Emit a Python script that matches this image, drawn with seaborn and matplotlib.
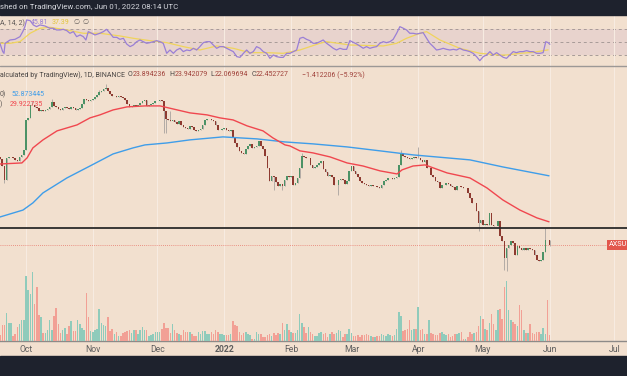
# AXS/USDT daily chart (TradingView style) rebuilt with seaborn + matplotlib
import numpy as np
import pandas as pd
import seaborn as sns
import matplotlib.pyplot as plt
from matplotlib.patches import Rectangle

# ---- data ----
# daily closes from 2021-09-19 to 2022-06-01 (USDT)
first_open = 67.0
closes = [
    65.2, 59.7, 50.2, 66.0, 66.8, 66.8, 66.0, 64.4, 63.6, 66.8, 68.5, 72.8,
    105.6, 108.3, 127.2, 127.2, 124.1, 122.5, 118.1, 119.5, 118.1, 119.5,
    121.0, 124.1, 132.0, 125.6, 124.1, 121.0, 119.5, 122.5, 124.1, 122.5,
    121.0, 124.1, 122.5, 119.5, 121.0, 122.5, 128.8, 137.0, 135.3, 133.7,
    135.3, 137.0, 140.4, 144.0, 149.4, 151.3, 155.1, 157.0, 151.3, 145.8,
    142.2, 142.2, 140.4, 142.2, 140.4, 138.7, 135.3, 128.8, 124.1, 125.6,
    127.2, 125.6, 127.2, 130.4, 133.7, 135.3, 125.6, 127.2, 128.8, 130.4,
    133.7, 133.7, 135.3, 133.7, 118.1, 106.9, 105.6, 104.3, 105.6, 103.0,
    100.5, 104.3, 99.3, 96.9, 95.7, 94.5, 98.1, 96.9, 93.3, 92.2,
    93.3, 94.5, 99.3, 105.6, 106.9, 106.9, 105.6, 104.3, 99.3, 93.3,
    93.3, 94.5, 95.7, 93.3, 92.2, 93.3, 85.6, 79.4, 75.6, 72.0,
    70.2, 69.3, 73.8, 76.5, 78.5, 74.7, 75.6, 76.5, 81.4, 76.5,
    73.8, 67.6, 58.3, 49.6, 52.8, 52.1, 49.0, 46.6, 47.8, 46.6,
    50.2, 52.8, 52.1, 52.8, 47.2, 48.4, 51.5, 58.3, 67.6, 66.8,
    66.0, 66.0, 60.5, 58.3, 59.0, 60.5, 62.0, 63.6, 57.6, 55.5,
    52.8, 53.4, 52.1, 47.2, 47.2, 50.2, 50.9, 50.2, 47.8, 49.6,
    56.2, 59.7, 56.2, 54.1, 52.1, 49.6, 48.4, 47.8, 47.2, 46.6,
    47.2, 46.6, 46.6, 46.1, 45.5, 47.2, 49.6, 50.2, 51.5, 51.5,
    50.9, 51.5, 52.1, 60.5, 70.2, 67.6, 66.8, 66.0, 65.2, 66.0,
    66.8, 66.0, 66.0, 64.4, 62.8, 64.4, 58.3, 58.3, 53.4, 52.1,
    49.6, 49.0, 45.5, 47.2, 47.2, 48.4, 47.8, 46.6, 46.1, 44.4,
    46.6, 46.6, 46.1, 45.5, 45.5, 42.8, 40.2, 37.8, 37.8, 34.2,
    29.5, 30.6, 28.8, 29.1, 28.8, 33.4, 28.8, 28.4, 28.4, 30.2,
    25.1, 23.6, 19.1, 21.6, 22.45, 23.6, 23.0, 19.8, 22.2, 21.6,
    21.1, 21.6, 21.1, 21.6, 21.4, 21.1, 19.8, 18.6, 18.4, 18.6,
    20.6, 23.9, 23.894, 22.453,
]
# visible wicks, keyed by day offset from 2021-10-01
wick_high = {3: 133.7, 12: 137.0, 34: 153.2, 37: 165.0, 67: 118.1, 128: 70.2,
             174: 72.8, 182: 75.6, 241: 27.7, 243: 23.94}
wick_low = {-10: 48.4, 64: 89.9, 65: 89.9, 115: 44.4, 119: 44.4, 145: 41.7,
            210: 26.7, 222: 16.5, 223: 16.3, 243: 22.07}

volume = [
    6, 16, 16, 28, 18, 18, 5, 7, 14, 17, 21, 21,
    65, 51, 47, 69, 37, 54, 26, 24, 8, 8, 11, 21,
    11, 25, 33, 17, 8, 11, 13, 7, 15, 20, 10, 10,
    21, 17, 13, 11, 48, 24, 10, 9, 11, 12, 32, 18,
    16, 15, 24, 10, 12, 7, 9, 5, 5, 8, 9, 10,
    11, 8, 11, 11, 7, 11, 14, 11, 11, 5, 6, 7,
    9, 9, 9, 12, 18, 13, 13, 8, 17, 11, 8, 7,
    6, 11, 9, 9, 9, 7, 5, 5, 9, 7, 10, 10,
    7, 7, 9, 7, 11, 9, 7, 7, 6, 6, 6, 7,
    20, 16, 15, 9, 6, 8, 9, 7, 6, 2, 2, 9,
    7, 7, 4, 4, 6, 7, 5, 8, 6, 8, 7, 18,
    11, 17, 11, 9, 8, 8, 11,
    27, 18, 14, 8, 14, 9, 7, 5, 5, 8,
    9, 7, 8, 4, 7, 9, 7, 8, 11, 10,
    4, 7, 7, 12, 8, 5, 5, 6, 4, 6,
    6, 7, 6, 5, 4, 4, 5, 5, 7, 6,
    5, 7, 6, 5, 6, 12, 29, 25, 10, 11,
    12, 21, 11, 12, 12, 34, 11, 12, 7, 7,
    21, 8, 7, 6, 6, 8, 9, 7, 6, 7,
    4, 5, 7, 7, 8, 9, 2, 2, 4, 9,
    7, 8, 9, 15, 25, 22, 12, 11, 18, 27,
    17, 11, 31, 32, 22, 54, 60, 31, 21, 19,
    17, 15, 36, 31, 11, 8, 8, 17, 8, 7,
    9, 9, 7, 13, 7, 41, 6,
]

# moving averages (day offset from 2021-10-01, price)
ma50_day = [-12.1, -1.9, 0.5, 3.2, 7.9, 14.4, 23.7, 29.7, 34.3, 40.4, 46.9, 55.2,
            62.2, 68.2, 76.1, 84.0, 90.0, 96.1, 102.6, 110.0, 114.6, 120.2, 122.5,
            127.1, 133.2, 141.1, 149.0, 156.4, 164.3, 172.2, 174.5, 179.6, 185.2,
            195.4, 206.0, 213.9, 221.3, 229.2, 237.1, 242.7]
ma50 = [61.2, 62.0, 66.0, 74.7, 82.5, 92.2, 99.3, 108.3, 112.4, 119.5, 124.1, 125.6,
        125.6, 121.0, 115.2, 112.4, 108.3, 105.6, 98.1, 92.2, 84.5, 77.5, 76.5,
        72.0, 70.2, 66.8, 62.0, 59.7, 56.2, 54.1, 56.9, 59.7, 60.5,
        54.8, 51.5, 45.5, 39.2, 34.6, 31.4, 29.92]
ma200_day = [-12.1, -1.4, 3.2, 7.9, 19.0, 29.7, 40.4, 49.7, 55.2, 65.4, 76.1, 91.4,
             107.2, 120.2, 133.2, 149.0, 164.3, 179.6, 206.0, 221.3, 242.7]
ma200 = [31.75, 34.6, 37.8, 42.8, 51.5, 59.7, 69.3, 74.7, 77.5, 79.4, 82.5, 85.6,
         83.5, 80.4, 78.5, 75.6, 72.0, 68.5, 64.4, 59.0, 52.87]

# RSI(14) and its moving average
rsi_day = [-12.1, -10.8, -10.2, -9.7, -7.4, -5.1, -2.8, -1.5, -0.5, 0.3, 1.9, 3.4,
           4.9, 6.5, 8.8, 11.1, 12.7, 14.2, 15.8, 17.3, 18.9, 20.4, 22.0, 23.5,
           25.1, 26.6, 27.8, 28.9, 30.5, 32.0, 34.3, 35.9, 37.4, 39.0, 40.5, 42.1,
           43.6, 45.2, 46.7, 48.3, 49.8, 51.4, 52.9, 54.4, 56.0, 57.5, 59.1, 60.6,
           62.2, 63.7, 65.3, 66.8, 68.4, 69.9, 71.5, 73.0, 74.6, 76.1, 77.7, 79.2,
           80.7, 82.3, 83.8, 85.4, 86.9, 88.5, 90.0, 91.6, 93.1, 94.7, 96.2, 97.8,
           99.3, 100.9, 102.4, 103.9, 105.5, 107.0, 108.6, 110.1, 111.7, 113.2,
           114.8, 116.3, 117.9, 119.4, 121.0, 122.5, 124.1, 125.6,
           127.1, 128.6, 130.2, 131.7, 133.3, 134.8, 136.4, 137.9, 139.5, 141.0,
           142.6, 144.1, 145.7, 147.2, 148.8, 150.3, 151.9, 153.4, 154.9, 156.5,
           158.0, 159.6, 161.1, 162.7, 164.2, 165.8, 167.3, 168.9, 170.4, 172.0,
           173.5, 175.1, 176.6, 178.1, 179.7, 181.2, 182.8, 184.3, 185.9, 187.4,
           189.0, 190.5, 192.1, 193.6, 195.2, 196.7, 198.3, 199.8, 201.3, 202.9,
           204.4, 206.0, 207.5, 209.1, 210.6, 212.2, 213.7, 215.3, 216.8, 218.4,
           219.9, 221.5, 223.0, 224.5, 226.1, 227.6, 229.2, 230.7, 232.3, 233.8,
           235.4, 236.9, 238.5, 240.0, 241.2, 242.3, 243.1]
rsi = [47.5, 34.7, 32.1, 47.5, 52.6, 53.6, 57.7, 65.4, 73.1, 83.4, 82.4, 75.7,
       73.1, 75.7, 74.1, 70.6, 70.6, 68.0, 68.0, 69.0, 67.0, 62.9, 65.4, 57.7,
       60.3, 57.7, 52.6, 65.4, 62.9, 60.3, 62.9, 65.4, 69.0, 62.9, 56.7, 56.7,
       53.6, 55.2, 46.5, 42.4, 44.9, 50.0, 52.6, 50.0, 47.5, 48.5, 50.0, 51.6,
       50.0, 47.5, 32.1, 37.2, 32.1, 37.2, 39.8, 34.7, 37.2, 36.2, 39.8, 37.2,
       42.4, 48.5, 50.0, 50.0, 44.9, 39.8, 42.4, 42.4, 39.8, 37.2, 34.7, 27.0,
       25.9, 32.1, 37.2, 32.1, 34.7, 42.4, 39.8, 34.7, 32.1, 24.4,
       29.5, 27.0, 25.9, 25.9, 32.1, 32.1, 34.7, 37.2,
       55.2, 56.7, 53.6, 51.6, 47.5, 47.5, 50.0, 52.6, 47.5, 43.9,
       39.8, 37.2, 39.8, 38.2, 38.2, 51.6, 49.0, 46.5, 43.4, 39.8,
       42.4, 39.8, 41.3, 42.4, 47.5, 50.0, 48.5, 50.0, 53.6, 62.9,
       73.1, 70.6, 68.0, 62.9, 62.9, 61.8, 62.9, 63.9, 55.2, 47.5,
       42.4, 37.2, 38.2, 39.8, 38.2, 37.2, 38.2, 37.2, 39.8, 37.2,
       36.2, 34.7, 32.1, 27.0, 20.8, 27.0, 29.5, 34.7, 29.5, 33.1,
       29.5, 25.9, 24.4, 29.5, 34.7, 33.1, 34.7, 34.7, 36.2, 34.7,
       34.7, 32.1, 32.1, 33.1, 50.0, 48.5, 45.81]
rsi_ma_day = [-12.1, -7.4, -2.8, 1.9, 6.5, 11.1, 18.9, 26.6, 34.3, 43.6, 49.8, 57.5,
              65.3, 73.0, 80.7, 88.5, 96.2, 103.9, 111.7, 119.4, 127.1, 136.4, 139.5,
              150.3, 165.8, 172.0, 176.6, 182.8, 185.9, 192.1, 201.3, 210.6, 219.9,
              223.0, 229.2, 235.4, 242.3]
rsi_ma = [47.5, 47.5, 50.0, 62.9, 70.6, 72.1, 68.0, 62.9, 62.9, 58.8, 55.2, 51.6,
          48.5, 42.4, 37.2, 43.4, 39.8, 33.1, 33.1, 32.1, 37.2, 47.5, 50.0,
          44.9, 43.4, 47.5, 55.2, 62.9, 65.4, 52.6, 39.8, 32.1, 29.5,
          29.5, 32.1, 33.6, 37.39]

month_starts = ["2021-10-01", "2021-11-01", "2021-12-01", "2022-01-01", "2022-02-01",
                "2022-03-01", "2022-04-01", "2022-05-01", "2022-06-01", "2022-07-01"]
month_labels = ["Oct", "Nov", "Dec", "2022", "Feb", "Mar", "Apr", "May", "Jun", "Jul"]
support_level = 27.7

# ---- colours ----
BG = "#f2e0cf"
BAND = "#e8d3cd"
DARK = "#1e222d"
UP = "#4c9266"
DOWN = "#8e3a30"
WICK = "#a9a39f"
VOL_UP = "#8fcbbb"
VOL_DOWN = "#f2a095"
GRID = "#f7ebe1"
LABEL = "#5f5a57"

sns.set_style("white")
plt.rcParams["font.family"] = ["Roboto", "DejaVu Sans"]

base = pd.Timestamp("2021-10-01")
def to_date(days):
    return base + pd.to_timedelta(np.asarray(days, dtype=float), unit="D")

dates = pd.date_range("2021-09-19", periods=len(closes), freq="D")
c = np.array(closes)
o = np.concatenate([[first_open], c[:-1]])
day_idx = list((dates - base).days)
hi = np.maximum(o, c)
lo = np.minimum(o, c)
for d, v in wick_high.items():
    hi[day_idx.index(d)] = v
for d, v in wick_low.items():
    lo[day_idx.index(d)] = v
up = c >= o

W, H = 627, 376
fig = plt.figure(figsize=(W / 100, H / 100), dpi=100)
fig.patch.set_facecolor(BG)

def box(y0, y1):
    return [0, 1 - y1 / H, 1, (y1 - y0) / H]

x_lo, x_hi = to_date(-12.06), to_date(278.9)
months = pd.to_datetime(month_starts)

# ---- RSI pane ----
ax_r = fig.add_axes(box(15, 66))
ax_r.set_facecolor(BG)
ax_r.axhspan(30, 70, color=BAND, lw=0)
for lvl in (70, 50, 30):
    ax_r.axhline(lvl, color="#a79b98", lw=0.7, ls=(0, (3, 3)))
for m in months:
    ax_r.axvline(m, color=GRID, lw=0.8)
sns.lineplot(x=to_date(rsi_ma_day), y=rsi_ma, ax=ax_r, color="#f0d45c", lw=0.9)
sns.lineplot(x=to_date(rsi_day), y=rsi, ax=ax_r, color="#9a7fd6", lw=0.9)
ax_r.set_xlim(x_lo, x_hi)
ax_r.set_ylim(12.6, 91)
ax_r.set_xticks([]); ax_r.set_yticks([])
for s in ax_r.spines.values():
    s.set_visible(False)

# ---- price pane ----
ax = fig.add_axes(box(66.5, 341))
ax.set_facecolor(BG)
ax.set_yscale("log")
ax.set_xlim(x_lo, x_hi)
ax.set_ylim(6.84, 204.6)
for m in months:
    ax.axvline(m, color=GRID, lw=0.8, zorder=0)

axv = ax.twinx()
axv.bar(dates, volume, width=0.72, color=np.where(up, VOL_UP, VOL_DOWN), lw=0)
axv.set_ylim(0, 274.5)
axv.set_yticks([])
for s in axv.spines.values():
    s.set_visible(False)

ax.vlines(dates, lo, hi, color=WICK, lw=0.6, zorder=2)
ax.bar(dates, np.abs(c - o) + 0.001, bottom=np.minimum(o, c), width=0.74,
       color=np.where(up, UP, DOWN), lw=0, zorder=3)

sns.lineplot(x=to_date(ma200_day), y=ma200, ax=ax, color="#3f9de9", lw=1.0, zorder=4)
sns.lineplot(x=to_date(ma50_day), y=ma50, ax=ax, color="#f0474f", lw=1.0, zorder=4)
ax.axhline(support_level, color="#2b2b2b", lw=1.3, zorder=5)
ax.axhline(c[-1], color="#e8786c", lw=0.6, ls=(0, (1, 1.5)), zorder=1)

ax.set_yticks([]); ax.set_yticks([], minor=True)
ax.set_xticks(months)
ax.set_xticklabels(month_labels)
ax.tick_params(axis="x", length=0, pad=3, labelsize=6.2, labelcolor="#5d5d5d")
for lab in ax.get_xticklabels():
    if lab.get_text() == "2022":
        lab.set_fontweight("bold")
for k, s in ax.spines.items():
    s.set_visible(k == "bottom")
ax.spines["bottom"].set_color("#8d8a88")
ax.spines["bottom"].set_linewidth(1.0)

# no axis labels or titles anywhere (empty ones still take up room)
for a in (ax, axv, ax_r):
    a.xaxis.label.set_visible(False)
    a.yaxis.label.set_visible(False)
    a.title.set_visible(False)

# ---- frame bits ----
fig.add_artist(Rectangle((0, 1 - 15 / H), 1, 15 / H, transform=fig.transFigure,
                         color=DARK, zorder=10))
fig.add_artist(Rectangle((0, 0), 1, 20 / H, transform=fig.transFigure,
                         color=DARK, zorder=10))
fig.add_artist(plt.Line2D([0, 1], [1 - 66 / H] * 2, transform=fig.transFigure,
                          color="#9c9896", lw=1.0, zorder=10))

def chain(host, x, y, parts, size):
    """Write text segments one after another; each part is (text, colour, gap_pt)."""
    t = host.annotate(parts[0][0], xy=(x / W, 1 - y / H), xycoords="figure fraction",
                      color=parts[0][1], fontsize=size, ha="left", va="center",
                      annotation_clip=False, zorder=11)
    for s, col, gap in parts[1:]:
        t = host.annotate(s, xy=(1, 0.5), xycoords=t, xytext=(gap, 0),
                          textcoords="offset points", color=col, fontsize=size,
                          ha="left", va="center", annotation_clip=False, zorder=11)
    return t

fig.text(0, 1 - 7.5 / H, "shed on TradingView.com, Jun 01, 2022 08:14 UTC",
         color="#d5d7dd", fontsize=5.7, ha="left", va="center", zorder=11)
chain(ax_r, 0, 23, [("A, 14, 2)", LABEL, 0), ("45.81", "#9a7fd6", 4.5),
                    ("37.39", "#e3c43a", 2.5), ("\u2205", LABEL, 2.5),
                    ("\u2205", LABEL, 2.0)], 5.0)
ohlc_red = "#a0423b"
chain(ax, 0, 75, [("alculated by TradingView), 1D, BINANCE", "#4a4644", 0),
                  ("O", "#4a4644", 2.2), ("23.894236", ohlc_red, 0.1),
                  ("H", "#4a4644", 2.2), ("23.942079", ohlc_red, 0.1),
                  ("L", "#4a4644", 2.2), ("22.069694", ohlc_red, 0.1),
                  ("C", "#4a4644", 2.2), ("22.452727", ohlc_red, 0.1)], 5.0)
chain(ax, 302, 75, [("\u22121.412206 (\u22125.92%)", ohlc_red, 0)], 5.0)
chain(ax, 0, 94, [("0)", LABEL, 0), ("52.873445", "#3f9de9", 3.5)], 5.0)
chain(ax, 0, 104, [(")", LABEL, 0), ("29.922735", "#f0474f", 5.5)], 5.0)
fig.text(609 / W, 1 - 245 / H, "AXSU", fontsize=5.2, color="white", ha="left",
         va="center", zorder=11,
         bbox=dict(boxstyle="square,pad=0.25", fc="#e2574c", ec="none"))

fig.savefig("out.png", dpi=100, facecolor=BG)
